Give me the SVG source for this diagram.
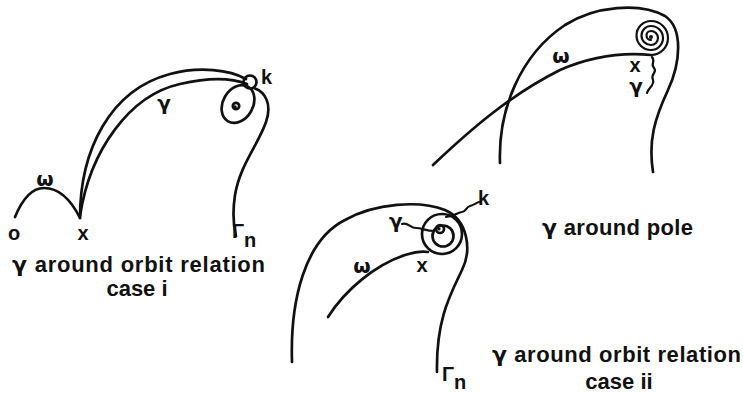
<svg xmlns="http://www.w3.org/2000/svg" width="743" height="394" viewBox="0 0 743 394">
<style>
.c{fill:none;stroke:#111;stroke-width:2.7;stroke-linecap:round;stroke-linejoin:round}
.s{fill:none;stroke:#111;stroke-width:2.2;stroke-linecap:round}
text{font-family:"Liberation Sans",Arial,sans-serif;font-weight:bold;fill:#111}
.g{font-family:"DejaVu Sans",sans-serif}
.t{font-size:22px}
.l{font-size:20px}
.m{text-anchor:middle}
</style>
<rect width="743" height="394" fill="#fff"/>
<g id="case-i">
<path class="c" d="M15,217 C22,200 32,188 44,188 C58,188 70,198 80,218"/>
<path class="c" d="M80,218 C80,150 110,90 170,74 C200,66 230,70 246,79"/>
<path class="c" d="M80,216 C90,150 130,95 180,84 C210,77 232,78 247,84"/>
<circle class="c" cx="250" cy="82" r="6.5"/>
<ellipse class="c" cx="238" cy="104" rx="15" ry="20" transform="rotate(30 238 104)"/>
<circle class="c" cx="236" cy="106" r="3.2"/>
<circle cx="235" cy="107" r="1.8" fill="#111"/>
<path class="c" d="M254,88 C266,92 272,105 266,122 C258,145 240,165 235,195 C232,215 234,228 236,236"/>
<text class="l m" x="14" y="240">o</text>
<text class="l m" x="83" y="240">x</text>
<text class="l m g" x="45" y="186">ω</text>
<text class="l m g" x="164" y="110">γ</text>
<text class="l" x="261" y="84">k</text>
<text class="l" x="232" y="238">Γ<tspan dy="9">n</tspan></text>
<text class="t" x="12" y="272" textLength="253" lengthAdjust="spacing"><tspan class="g">γ</tspan> around orbit relation</text>
<text class="t m" x="137" y="296">case i</text>
</g>
<g id="pole">
<path class="c" d="M500,163 C498,110 520,55 565,25 C595,6 640,2 665,16 C683,28 681,62 668,90 C655,118 648,140 653,172"/>
<path class="c" d="M433,165 C470,130 510,95 560,70 C590,57 620,52 651,55"/>
<path class="s" d="M651,55 A17,17 0 0 0 651,21 A14.5,14.5 0 0 0 651,50 A12,12 0 0 0 651,26 A9.5,9.5 0 0 0 651,45 A7,7 0 0 0 651,31 A4.5,4.5 0 0 0 651,40"/>
<circle cx="651" cy="37" r="2" fill="#111"/>
<path class="s" d="M652,57 C656,62 650,64 654,68 C658,72 650,74 653,80 C655,85 648,88 647,93"/>
<text class="l m g" x="561" y="63">ω</text>
<text class="l m" x="635" y="72">x</text>
<text class="l m g" x="636" y="93">γ</text>
<text class="t" x="542" y="235" textLength="151" lengthAdjust="spacing"><tspan class="g">γ</tspan> around pole</text>
</g>
<g id="case-ii">
<path class="c" d="M292,362 C290,300 305,240 345,220 C375,203 420,200 445,210 C468,220 472,250 462,270 C450,295 436,320 437,372"/>
<path class="c" d="M328,317 C345,290 375,265 405,255 C415,252 422,251 428,252"/>
<circle class="c" cx="442" cy="234" r="20"/>
<circle class="c" cx="443" cy="236" r="10.5"/>
<circle class="c" cx="440" cy="229" r="4"/>
<circle cx="439" cy="229" r="1.6" fill="#111"/>
<path class="s" d="M402,224 C408,222 410,228 416,228 C422,228 426,231 434,231"/>
<path class="s" d="M446,217 C455,216 458,212 462,212 C466,212 466,207 470,206 C474,205 476,203 479,202"/>
<text class="l g" x="389" y="228">γ</text>
<text class="l" x="478" y="205">k</text>
<text class="l m" x="422" y="272">x</text>
<text class="l m g" x="362" y="273">ω</text>
<text class="l" x="442" y="381">Γ<tspan dy="8">n</tspan></text>
<text class="t" x="492" y="362" textLength="249" lengthAdjust="spacing"><tspan class="g">γ</tspan> around orbit relation</text>
<text class="t m" x="619" y="389">case ii</text>
</g>
</svg>
